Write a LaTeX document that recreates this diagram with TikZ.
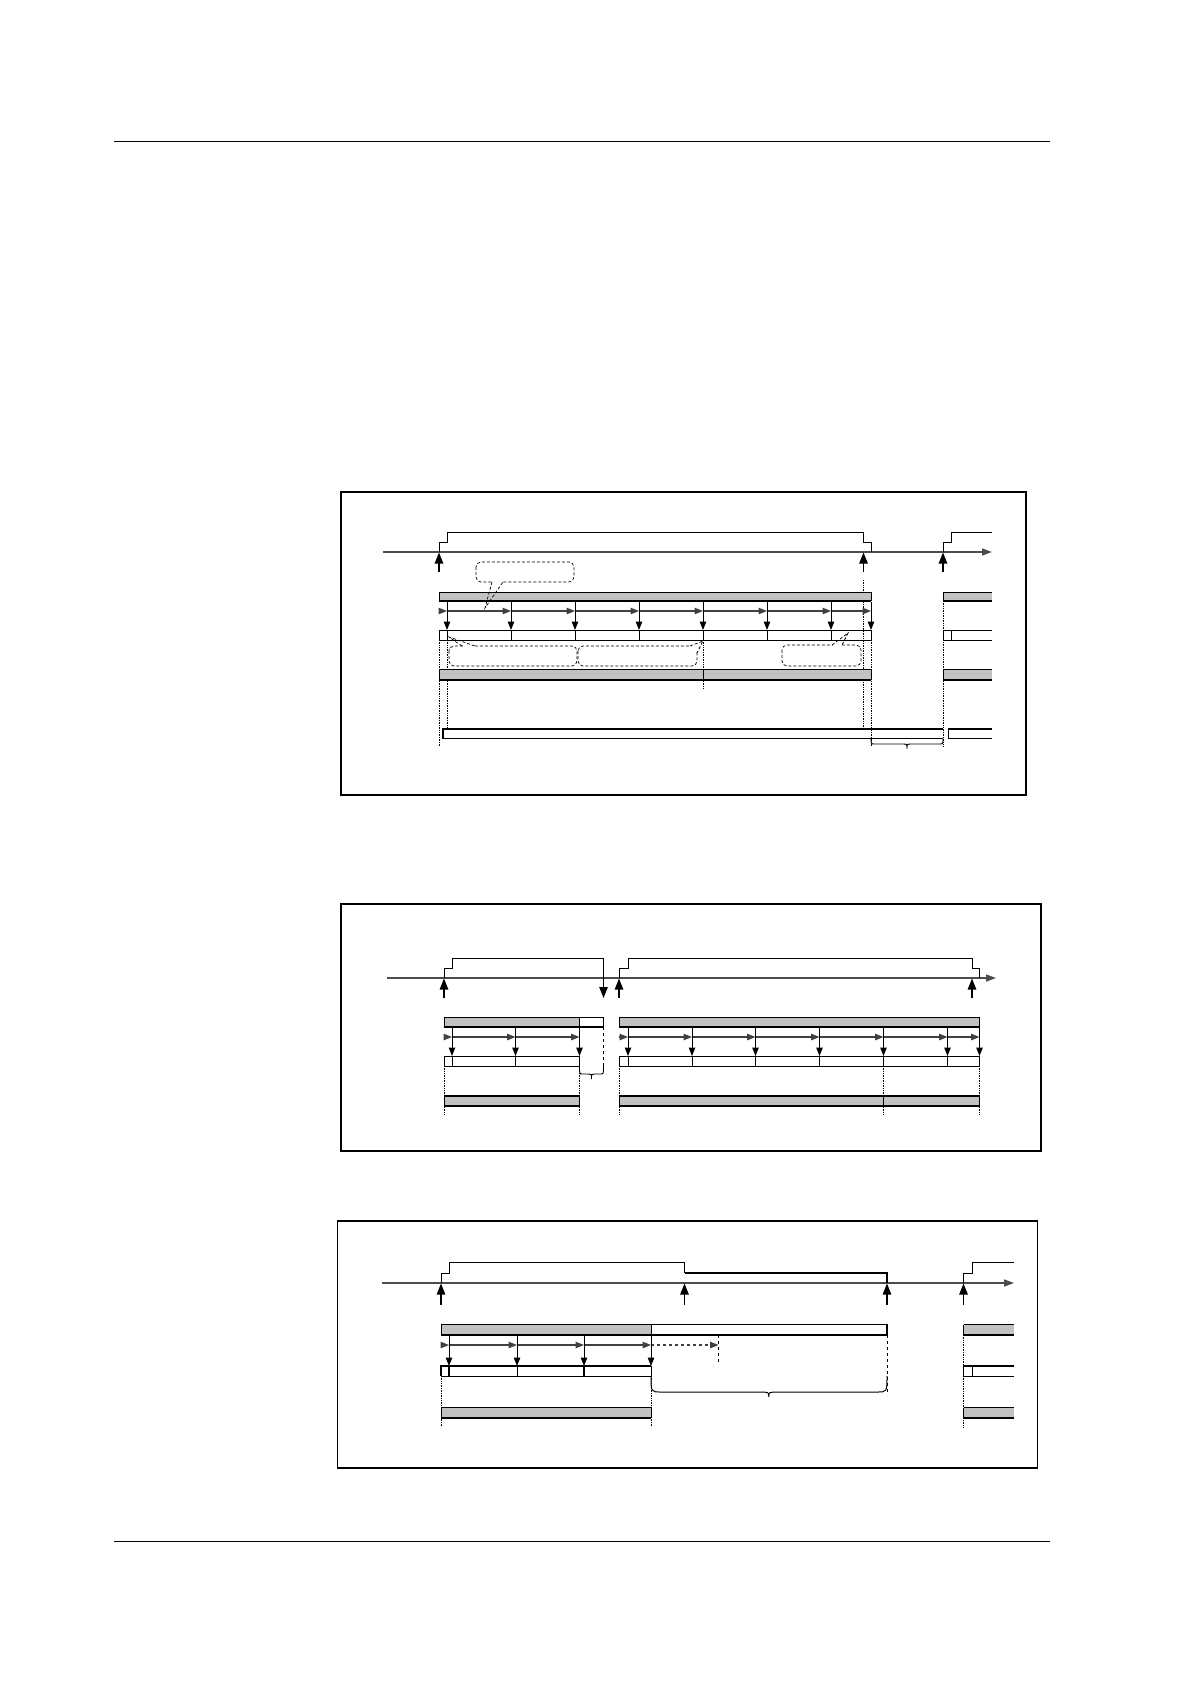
\documentclass[tikz,border=0pt]{standalone}
\usetikzlibrary{arrows.meta}
\newcommand{\gbarclosed}[4]{%
  \fill[black!24] (#1,#2) rectangle (#3,#4);
  \draw[line width=1pt] (#1,#2) -- (#3,#2);
  \draw[line width=1.8pt] (#1,#4) -- (#3,#4);
  \draw[line width=0.8pt] (#1,#2) -- (#1,#4) (#3,#2) -- (#3,#4);}
\newcommand{\gbaropen}[4]{%
  \fill[black!24] (#1,#2) rectangle (#3,#4);
  \draw[line width=1pt] (#1,#2) -- (#3,#2);
  \draw[line width=1.8pt] (#1,#4) -- (#3,#4);
  \draw[line width=0.8pt] (#1,#2) -- (#1,#4);}
\newcommand{\lbarclosed}[4]{%
  \fill[black!24] (#1,#2) rectangle (#3,#4);
  \draw[line width=1.8pt] (#1,#2) -- (#3,#2) (#1,#4) -- (#3,#4);
  \draw[line width=0.8pt] (#1,#2) -- (#1,#4) (#3,#2) -- (#3,#4);}
\newcommand{\lbaropen}[4]{%
  \fill[black!24] (#1,#2) rectangle (#3,#4);
  \draw[line width=1.8pt] (#1,#2) -- (#3,#2) (#1,#4) -- (#3,#4);
  \draw[line width=0.8pt] (#1,#2) -- (#1,#4);}
\begin{document}
\begin{tikzpicture}[x=1pt,y=-1pt,
  ax/.style={draw=black!70, line width=1.4pt},
  axarr/.style={ax,-{Triangle[length=10pt,width=7pt]}},
  sig/.style={line width=1pt},
  uparr/.style={line width=1.1pt,-{Triangle[length=11pt,width=8.5pt]}},
  tick/.style={line width=1pt,-{Triangle[length=8.5pt,width=6.5pt]}},
  harr/.style={draw=black!75,line width=1.1pt,-{Triangle[length=8.5pt,width=6.5pt]}},
  dots/.style={densely dotted, line width=0.7pt},
  bubble/.style={densely dashed, line width=0.7pt, rounded corners=5pt},
  dsh/.style={dashed, line width=1pt},
  frame/.style={line width=1.3pt},
  row/.style={line width=0.8pt}
]
\useasboundingbox (0,0) rectangle (1191,1684);
% page rules
\draw[line width=1pt] (114,141) -- (1050,141);
\draw[line width=1pt] (114,1541) -- (1050,1541);

% ================= Panel 1 =================
\draw[frame] (341,492) rectangle (1026,795);
\draw[axarr] (383,552) -- (992,552);
\draw[sig] (439,552) -- (439,542) -- (447,542) -- (447,532) -- (863.5,532) -- (863.5,542) -- (871,542) -- (871,552);
\draw[sig] (943,552) -- (943,542) -- (951.5,542) -- (951.5,532) -- (992,532);
\foreach \x in {439,863.5,943} \draw[uparr] (\x,572) -- (\x,552.5);
% dotted guides
\draw[dots] (439,640) -- (439,747);
\draw[dots] (447.5,640) -- (447.5,728);
\draw[dots] (703,640) -- (703,688);
\draw[dots] (863.5,580) -- (863.5,728);
\draw[dots] (871,640) -- (871,747);
\draw[dots] (943,601) -- (943,747);
% bars
\gbarclosed{439}{592}{871}{601}
\gbaropen{943}{592}{992}{601}
\foreach \a/\b in {439/447,447/511,511/575,575/639,639/703,703/767,767/831,831/871}
  \draw[harr] (\a,611) -- (\b,611);
\foreach \x in {447,511,575,639,703,767,831,871} \draw[tick] (\x,601.5) -- (\x,630);
\draw[row] (439,630) rectangle (871,640.5);
\foreach \x in {447,511,575,639,703,767,831} \draw[row] (\x,630) -- (\x,640.5);
\draw[row] (992,630) -- (943,630) -- (943,640.5) -- (992,640.5) (951.5,630) -- (951.5,640.5);
\lbarclosed{439}{669.5}{871}{680}
\draw[row] (703,669.5) -- (703,680);
\lbaropen{943}{669.5}{992}{680}
% lower white bar
\draw[row] (443,738.5) -- (943,738.5);
\draw[line width=1.8pt] (443,738.5) -- (443,729) -- (943,729);
\draw[line width=1.8pt] (948,729) -- (992,729);
\draw[row] (948,729) -- (948,738.5) -- (992,738.5);
% brace
\draw[line width=0.9pt] (871,738.5) .. controls (871,744) .. (875,744) -- (903,744) .. controls (907,744) .. (907,749) .. controls (907,744) .. (911,744) -- (939,744) .. controls (943,744) .. (943,738.5);
% callout bubbles
\draw[bubble] (476,562) rectangle (574,582);
\fill[white] (492.5,580) rectangle (502.5,584);
\draw[densely dashed, line width=0.7pt] (492,582) -- (485,608) -- (503,582);
\draw[bubble] (449,646) rectangle (577,666);
\fill[white] (462.5,644) rectangle (474.5,648);
\draw[densely dashed, line width=0.7pt] (462,646) -- (449,637) -- (475,646);
\draw[bubble] (578,646) rectangle (697,666);
\fill[white] (691,644) rectangle (699,652);
\draw[densely dashed, line width=0.7pt] (690,646) -- (703,641) -- (697,653);
\draw[bubble] (782,645) rectangle (861,666);
\fill[white] (832.5,643) rectangle (841.5,647);
\draw[densely dashed, line width=0.7pt] (832,645) -- (848,633) -- (842,645);

% ================= Panel 2 =================
\draw[line width=2.2pt] (341,904) rectangle (1041,1151);
\draw[axarr] (387,978) -- (996,978);
\draw[sig] (444,978) -- (444,968) -- (452,968) -- (452,958.5) -- (603.5,958.5);
\draw[uparr] (603.5,958) -- (603.5,998);
\draw[sig] (619,978) -- (619,968) -- (628,968) -- (628,958.5) -- (972,958.5) -- (972,968) -- (979.5,968) -- (979.5,978);
\foreach \x in {444,619,972} \draw[uparr] (\x,998) -- (\x,978.5);
\foreach \x in {444,579.5,619,883.5,979.5} \draw[dots] (\x,1066) -- (\x,1115);
\gbarclosed{444}{1017.5}{579.5}{1027}
\draw[line width=1pt] (579.5,1017.5) -- (603.5,1017.5) -- (603.5,1027);
\draw[line width=1.8pt] (579.5,1027) -- (603.5,1027);
\gbarclosed{619}{1017.5}{979.5}{1027}
\foreach \a/\b in {444/452,452/515.5,515.5/579.5,619/628,628/692,692/755.5,755.5/819.5,819.5/883.5,883.5/947.5,947.5/979.5}
  \draw[harr] (\a,1037) -- (\b,1037);
\foreach \x in {452,515.5,579.5,628,692,755.5,819.5,883.5,947.5,979.5} \draw[tick] (\x,1027.5) -- (\x,1056);
\draw[row] (444,1056) rectangle (579.5,1066);
\draw[row] (619,1056) rectangle (979.5,1066);
\foreach \x in {452,515.5,628,692,755.5,819.5,883.5,947.5} \draw[row] (\x,1056) -- (\x,1066);
\draw[dsh] (603.5,1027) -- (603.5,1073);
\draw[line width=0.9pt] (579.5,1066) .. controls (579.5,1074) .. (582.5,1074) -- (588.5,1074) .. controls (591.5,1074) .. (591.5,1079) .. controls (591.5,1074) .. (594.5,1074) -- (600.5,1074) .. controls (603.5,1074) .. (603.5,1066);
\lbarclosed{444}{1096}{579.5}{1106}
\lbarclosed{619}{1096}{979.5}{1106}
\draw[row] (883.5,1096) -- (883.5,1106);

% ================= Panel 3 =================
\draw[frame] (337.5,1221) rectangle (1037.5,1468);
\draw[axarr] (382,1283) -- (1014,1283);
\draw[sig] (441,1283) -- (441,1273) -- (449,1273) -- (449,1262.5) -- (684.5,1262.5) -- (684.5,1273);
\draw[line width=2.2pt] (684.5,1273) -- (887,1273) -- (887,1283);
\draw[sig] (963.5,1283) -- (963.5,1273) -- (972,1273) -- (972,1262.5) -- (1014,1262.5);
\foreach \x in {441,684.5,887,963.5} \draw[uparr] (\x,1304.5) -- (\x,1283.5);
\foreach \x in {441,651} \draw[dots] (\x,1376) -- (\x,1427);
\draw[dots] (963.5,1335) -- (963.5,1427);
\gbarclosed{441}{1324.5}{651}{1335}
\draw[line width=1pt] (651,1324.5) -- (887,1324.5);
\draw[line width=1.8pt] (651,1335) -- (887,1335) -- (887,1324);
\gbaropen{963.5}{1324.5}{1014}{1335}
\foreach \a/\b in {441/449,449/517,517/584,584/651}
  \draw[harr] (\a,1345) -- (\b,1345);
\draw[harr,dashed] (651,1345) -- (718.5,1345);
\foreach \x in {449,517,584,651} \draw[tick] (\x,1335.5) -- (\x,1366);
\draw[row] (441,1376) -- (651,1376) -- (651,1366);
\draw[line width=1.7pt] (441,1376) -- (441,1366) -- (651,1366);
\draw[line width=1.5pt] (449,1366) -- (449,1376) (584,1366) -- (584,1376);
\draw[row] (517,1366) -- (517,1376);
\draw[dsh] (718.5,1335) -- (718.5,1363);
\draw[dsh] (887,1335) -- (887,1395);
\draw[line width=1pt] (651,1376) .. controls (651,1392) .. (661,1392) -- (758.8,1392) .. controls (768.8,1392) .. (768.8,1397) .. controls (768.8,1392) .. (778.8,1392) -- (877,1392) .. controls (887,1392) .. (887,1376);
\draw[line width=1.7pt] (1014,1366) -- (963.5,1366) -- (963.5,1376);
\draw[row] (963.5,1376) -- (1014,1376) (972,1366) -- (972,1376);
\lbarclosed{441}{1407.5}{651}{1418}
\lbaropen{963.5}{1407.5}{1014}{1418}
\end{tikzpicture}
\end{document}
